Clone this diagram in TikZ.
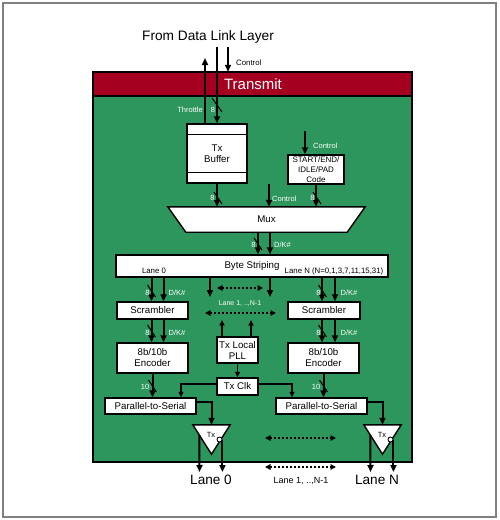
\documentclass[tikz,border=0pt]{standalone}
\usepackage{fontspec}
\setmainfont{Liberation Sans}
\usetikzlibrary{arrows.meta,calc}

\definecolor{phygreen}{RGB}{44,150,92}
\definecolor{phyred}{RGB}{166,0,33}

\begin{document}
\begin{tikzpicture}[x=1pt,y=-1pt,
    box/.style={draw=black,fill=white,line width=1.4pt,inner sep=0pt,align=center,font=\fontsize{9.7}{11}\selectfont},
    sig/.style={line width=2pt,-{Triangle[length=7pt,width=6pt]}},
    thinsig/.style={line width=1.3pt,-{Triangle[length=5.5pt,width=5pt]}},
    dots/.style={line width=1.7pt,dash pattern=on 2pt off 2pt,{Triangle[length=5.5pt,width=5.5pt]}-{Triangle[length=5.5pt,width=5.5pt]}},
    bus/.style={line width=1pt},
    lbl/.style={text=white,inner sep=0pt,font=\fontsize{7.5}{9}\selectfont},
    small/.style={inner sep=0pt,font=\fontsize{7.8}{9}\selectfont}]

            \useasboundingbox (0,0) rectangle (500,520);
            \draw[gray,line width=1.3pt] (3,3) rectangle (496,517);

            % transmit block
            \node[fill=phygreen,minimum width=319,minimum height=390,inner sep=0pt] (frame) at (252.5,267) {};
            \node[fill=phyred,minimum width=319,minimum height=24,inner sep=0pt,anchor=north] (hdr) at (frame.north) {};
            \draw[line width=1.5pt] (hdr.south west) -- (hdr.south east);
            \draw[line width=2pt] (frame.north west) rectangle (frame.south east);
            \node[text=white,font=\fontsize{15}{18}\selectfont] (title) at (253,84) {Transmit};

            \node[font=\fontsize{13.7}{16}\selectfont] (dll) at (208,37) {From Data Link Layer};

            % blocks
            \node[box,minimum width=60,minimum height=59] (txbuf) at (217,153.5) {Tx\\Buffer};
            \draw[line width=1.4pt] ([yshift=-11]txbuf.north west) -- ([yshift=-11]txbuf.north east);
            \draw[line width=1.4pt] ([yshift=11]txbuf.south west) -- ([yshift=11]txbuf.south east);
            \node[box,minimum width=56,minimum height=29,font=\fontsize{8}{9.8}\selectfont] (ctrlcode) at (316,169.5) {START/END/\\IDLE/PAD\\Code};

            \node[minimum width=197,minimum height=25,inner sep=0pt] (mux) at (266.5,219.5) {};
            \draw[fill=white,line width=1.4pt] (mux.north west) -- (mux.north east) -- ([xshift=-18]mux.south east) -- ([xshift=18]mux.south west) -- cycle;
            \node[font=\fontsize{9.7}{11}\selectfont] (muxtxt) at (mux) {Mux};

            \node[box,minimum width=272,minimum height=22] (stripe) at (252,266) {Byte Striping};
            \node[small] (lane0lbl) at (154,271) {Lane 0};
            \node[small] (laneNlbl) at (334,271) {Lane N (N=0,1,3,7,11,15,31)};

            \node[box,minimum width=71,minimum height=17] (scram0) at (152.5,310.5) {Scrambler};
            \node[box,minimum width=72,minimum height=17] (scramN) at (324,310.5) {Scrambler};
            \node[box,minimum width=71,minimum height=30] (enc0) at (152.5,358) {8b/10b\\Encoder};
            \node[box,minimum width=71,minimum height=30] (encN) at (323.5,358) {8b/10b\\Encoder};
            \node[box,minimum width=41,minimum height=26] (pll) at (237.5,350) {Tx Local\\PLL};
            \node[box,minimum width=41,minimum height=17] (txclk) at (237.5,386.5) {Tx Clk};
            \node[box,minimum width=91,minimum height=16] (ser0) at (150.5,406) {Parallel-to-Serial};
            \node[box,minimum width=91,minimum height=16] (serN) at (321.5,406) {Parallel-to-Serial};

            \node[minimum width=37,minimum height=29,inner sep=0pt] (tx0) at (211.5,439.5) {};
            \draw[fill=white,line width=1.4pt] (tx0.north west) -- (tx0.north east) -- (tx0.south) -- cycle;
            \node[lbl,text=black] (tx0lbl) at (211,435) {Tx};
            \node[circle,draw,fill=white,line width=0.9pt,inner sep=0pt,minimum size=5] (inv0) at (219.5,439.5) {};
            \node[minimum width=37,minimum height=29,inner sep=0pt] (txN) at (382.5,439.5) {};
            \draw[fill=white,line width=1.4pt] (txN.north west) -- (txN.north east) -- (txN.south) -- cycle;
            \node[lbl,text=black] (txNlbl) at (382,435) {Tx};
            \node[circle,draw,fill=white,line width=0.9pt,inner sep=0pt,minimum size=5] (invN) at (390.5,439.5) {};

            % from data link layer
            \coordinate (thr) at (205,58);
            \coordinate (dllin) at (217,47);
            \coordinate (ctlin) at (228,47);
            \draw[sig] (txbuf.north -| thr) -- (thr);
            \draw[sig] (dllin) -- (txbuf.north);
            \draw[sig] (ctlin) -- (ctlin |- frame.north);
            \node[small,anchor=west] (ctllbl) at (236,63) {Control};
            \draw[bus] (217,105) +(-5,-7) -- +(5,7);
            \node[lbl,anchor=east] (thrlbl) at (203,110) {Throttle};
            \node[lbl] at (213,110) {8};

            % into mux
            \draw[sig] (txbuf.south) -- (txbuf.south |- mux.north);
            \draw[bus] (218,198) +(-4,-6) -- +(4,6);
            \node[lbl] at (212.5,198) {8};
            \coordinate (muxctl) at (269,184);
            \draw[sig] (muxctl) -- (muxctl |- mux.north);
            \node[lbl,anchor=west] at (272,199) {Control};
            \draw[sig] (ctrlcode.south) -- (ctrlcode.south |- mux.north);
            \draw[bus] (317,198) +(-4,-6) -- +(4,6);
            \node[lbl] at (312.5,198) {8};
            \coordinate (codectl) at (305,131);
            \draw[sig] (codectl) -- (codectl |- ctrlcode.north);
            \node[lbl,anchor=west] at (313,146) {Control};

            % mux to byte striping
            \draw[sig] ([xshift=-8.5]mux.south) -- ([xshift=-8.5]mux.south |- stripe.north);
            \draw[sig] ([xshift=3.5]mux.south) -- ([xshift=3.5]mux.south |- stripe.north);
            \draw[bus] (258,244) +(-4,-6) -- +(4,6);
            \node[lbl] at (253.5,245) {8};
            \node[lbl] at (282.5,245) {D/K\#};

            % lanes
            \draw[sig] ([xshift=-1]scram0.north |- stripe.south) -- ([xshift=-1]scram0.north);
            \draw[sig] ([xshift=11]scram0.north |- stripe.south) -- ([xshift=11]scram0.north);
            \draw[bus] (151.5,291) +(-4,-6) -- +(4,6);
            \node[lbl] at (147.5,293) {8};
            \node[lbl] at (177,293) {D/K\#};
            \draw[sig] ([xshift=-1]scram0.south) -- ([xshift=-1]enc0.north);
            \draw[sig] ([xshift=11]scram0.south) -- ([xshift=11]enc0.north);
            \draw[bus] (151.5,331) +(-4,-6) -- +(4,6);
            \node[lbl] at (147.5,333) {8};
            \node[lbl] at (177,333) {D/K\#};

            \draw[sig] ([xshift=-2]scramN.north |- stripe.south) -- ([xshift=-2]scramN.north);
            \draw[sig] ([xshift=11]scramN.north |- stripe.south) -- ([xshift=11]scramN.north);
            \draw[bus] (322.5,291) +(-4,-6) -- +(4,6);
            \node[lbl] at (318.5,293) {8};
            \node[lbl] at (349,293) {D/K\#};
            \draw[sig] ([xshift=-2]scramN.south) -- ([xshift=-1.5]encN.north);
            \draw[sig] ([xshift=11]scramN.south) -- ([xshift=11.5]encN.north);
            \draw[bus] (322.5,331) +(-4,-6) -- +(4,6);
            \node[lbl] at (318.5,333) {8};
            \node[lbl] at (349,333) {D/K\#};

            \coordinate (mid0) at (210,297);
            \coordinate (midN) at (270,297);
            \draw[sig] (mid0 |- stripe.south) -- (mid0);
            \draw[sig] (midN |- stripe.south) -- (midN);
            \coordinate (dl1) at (217,288);
            \coordinate (dr1) at (263,288);
            \draw[dots] (dl1) -- (dr1);
            \node[lbl,font=\fontsize{7}{8}\selectfont] (midlbl) at (240,304) {Lane 1, ..,N-1};
            \coordinate (dl2) at (205,313);
            \coordinate (dr2) at (276,313);
            \draw[dots] (dl2) -- (dr2);

            % clock
            \coordinate (pllL) at (222,320);
            \coordinate (pllR) at (251,320);
            \draw[thinsig] (pllL |- pll.north) -- (pllL);
            \draw[thinsig] (pllR |- pll.north) -- (pllR);
            \draw[thinsig] (pll) -- (txclk);
            \draw[thinsig] ([yshift=2.5]txclk.west) -| ([xshift=30.5]ser0.north);
            \draw[thinsig] ([yshift=2.5]txclk.east) -| ([xshift=-29.5]serN.north);

            % serializers
            \draw[sig] (enc0.south) -- (enc0.south |- ser0.north);
            \draw[bus] (152.5,386) +(-4,-6) -- +(4,6);
            \node[lbl] at (145,387) {10};
            \draw[sig] (encN.south) -- (encN.south |- serN.north);
            \draw[bus] (323.5,386) +(-4,-6) -- +(4,6);
            \node[lbl] at (316,387) {10};
            \draw[sig] ([yshift=4]ser0.east) -| (tx0.north);
            \draw[sig] ([yshift=4]serN.east) -| (txN.north);

            % outputs
            \coordinate (lane0a) at (199.5,472);
            \coordinate (laneNa) at (370.5,472);
            \draw[sig] ($(tx0.north west)!0.35!(tx0.south)$) -- (lane0a);
            \draw[sig] (inv0.east) -- (inv0.east |- lane0a);
            \draw[sig] ($(txN.north west)!0.35!(txN.south)$) -- (laneNa);
            \draw[sig] (invN.east) -- (invN.east |- laneNa);
            \coordinate (bl1) at (265,438);
            \coordinate (br1) at (336,438);
            \draw[dots] (bl1) -- (br1);
            \coordinate (bl2) at (265,467);
            \coordinate (br2) at (336,467);
            \draw[dots] (bl2) -- (br2);

            \node[font=\fontsize{13.6}{16}\selectfont] (lane0) at (211,480) {Lane 0};
            \node[font=\fontsize{13.6}{16}\selectfont] (laneN) at (377,480) {Lane N};
            \node[font=\fontsize{9}{11}\selectfont] (lanemid) at (301,481) {Lane 1, ..,N-1};

        \end{tikzpicture}
\end{document}
